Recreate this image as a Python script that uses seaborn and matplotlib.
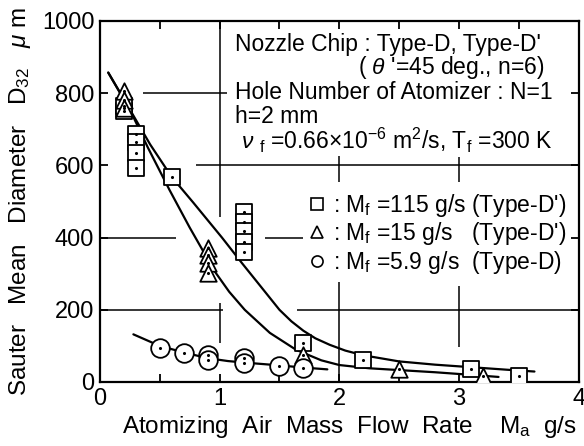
import matplotlib
matplotlib.use('Agg')
import matplotlib.pyplot as plt
import seaborn as sns
import pandas as pd

sq_x = [0.2, 0.2, 0.3, 0.3, 0.3, 0.3, 0.6, 1.2, 1.2, 1.2, 1.2, 1.2, 1.7, 2.2, 3.1, 3.5]
sq_y = [750, 765, 686, 664, 633, 592, 567, 472, 444, 417, 389, 361, 108, 61, 36, 17]
tri_x = [0.2, 0.2, 0.2, 0.9, 0.9, 0.9, 0.9, 1.7, 2.5, 3.2]
tri_y = [805, 780, 760, 370, 352, 330, 302, 75, 36, 17]
cir_x = [0.5, 0.7, 0.9, 0.9, 1.2, 1.2, 1.5, 1.7]
cir_y = [94, 80, 75, 61, 67, 53, 44, 39]

# fitted curves
fit_sq_x = [0.07, 0.25, 0.42, 0.6, 0.78, 1.02, 1.19, 1.35, 1.5, 1.6, 1.7, 1.8, 1.92, 2.05,
            2.2, 2.5, 2.8, 3.1, 3.4, 3.63]
fit_sq_y = [857, 755, 658, 568, 497, 400, 328, 262, 200, 168, 142, 121, 103, 87,
            74, 57, 48, 41, 34, 29]
fit_tri_x = [0.07, 0.25, 0.4, 0.58, 0.75, 0.96, 1.08, 1.21, 1.42, 1.64, 1.85, 2.0, 2.25,
             2.5, 2.8, 3.05, 3.33]
fit_tri_y = [857, 755, 650, 533, 428, 306, 250, 200, 136, 89, 60, 47, 38,
             33, 27, 21, 14]
fit_cir_x = [0.28, 0.5, 0.7, 0.9, 1.07, 1.2, 1.5, 1.7, 1.9]
fit_cir_y = [132, 100, 82, 66, 58, 54, 46, 40, 35]

labels = [": M$_\\mathregular{f}$ =115 g/s (Type-D')",
          ": M$_\\mathregular{f}$ =15 g/s   (Type-D')",
          ": M$_\\mathregular{f}$ =5.9 g/s  (Type-D)"]

pts = pd.DataFrame({
    'x': sq_x + tri_x + cir_x,
    'y': sq_y + tri_y + cir_y,
    'series': [labels[0]] * len(sq_x) + [labels[1]] * len(tri_x) + [labels[2]] * len(cir_x),
})
fits = [pd.DataFrame({'x': fit_sq_x, 'y': fit_sq_y}),
        pd.DataFrame({'x': fit_tri_x, 'y': fit_tri_y}),
        pd.DataFrame({'x': fit_cir_x, 'y': fit_cir_y})]

sns.set_theme(style='ticks')
plt.rcParams['font.family'] = ['Liberation Sans', 'DejaVu Sans']
plt.rcParams['mathtext.fontset'] = 'custom'
plt.rcParams['mathtext.rm'] = 'Liberation Sans'
plt.rcParams['mathtext.it'] = 'Liberation Sans:italic'
plt.rcParams['mathtext.default'] = 'regular'
plt.rcParams['text.color'] = 'black'

fig = plt.figure(figsize=(5.84, 4.46), dpi=100)
ax = fig.add_axes([0.171, 0.1435, 0.82, 0.8095])

# broken grid lines, as drawn in the original
lw_g = 1.1
for y, segs in [(800, [(0.36, 1.06)]), (600, [(0.8, 4)]),
                (400, [(0, 0.64), (1.38, 1.7)]), (200, [(0, 1.03), (1.65, 4)])]:
    for a, b in segs:
        ax.hlines(y, a, b, color='black', lw=lw_g, zorder=1)
for x, segs in [(1, [(458, 1000), (108, 219)]), (2, [(0, 278), (553, 625)]),
                (3, [(97, 265), (553, 622)])]:
    for a, b in segs:
        ax.vlines(x, a, b, color='black', lw=lw_g, zorder=1)

for f in fits:
    sns.lineplot(data=f, x='x', y='y', sort=False, estimator=None,
                 color='black', lw=1.6, ax=ax, zorder=2)

markers = {labels[0]: 's', labels[1]: '^', labels[2]: 'o'}
sizes = {labels[0]: 120, labels[1]: 140, labels[2]: 180}
for lab in labels:
    sub = pts[pts['series'] == lab]
    sns.scatterplot(data=sub, x='x', y='y', marker=markers[lab], s=sizes[lab],
                    facecolor='white', edgecolor='black', linewidth=1.3,
                    ax=ax, zorder=3, legend=False)
    ax.scatter(sub['x'], sub['y'], marker='.', s=6, color='black', zorder=4)

handles = [plt.Line2D([], [], ls='none', marker=m, ms=8, mfc='white', mec='black', mew=1.2)
           for m in ['s', '^', 'o']]
ax.legend(handles, labels, loc='center left', bbox_to_anchor=(0.405, 0.41),
          frameon=False, fontsize=16.5, handlelength=0.8, handletextpad=0.3,
          labelspacing=0.05, borderpad=0.1, labelcolor='black')

ax.set_xlim(0, 4)
ax.set_ylim(0, 1000)
ax.set_xticks([0, 1, 2, 3, 4])
ax.set_xticks([0.5, 1.5, 2.5, 3.5], minor=True)
ax.set_yticks([0, 200, 400, 600, 800, 1000])
ax.tick_params(direction='in', which='both', top=True, right=True, labelsize=17,
               width=1.3, color='black', labelcolor='black')
ax.tick_params(which='major', length=6, pad=4)
ax.tick_params(which='minor', length=6)
for s in ax.spines.values():
    s.set_linewidth(1.6)
    s.set_color('black')

ax.set_xlabel("Atomizing  Air  Mass  Flow  Rate    M$_a$  g/s", fontsize=17.5, color='black')
ax.set_ylabel("Sauter   Mean   Diameter   D$_{32}$   $\\mathit{\\mu}$ m", fontsize=17.5, color='black')
ax.xaxis.set_label_coords(0.522, -0.088)
ax.yaxis.set_label_coords(-0.14, 0.499)

tk = dict(transform=ax.transAxes, fontsize=16.5, color='black', va='center')
ax.text(0.282, 0.936, "Nozzle Chip : Type-D, Type-D'", **tk)
ax.text(0.929, 0.870, "( $\\mathit{\\theta}$ '=45 deg., n=6)", ha='right', **tk)
ax.text(0.282, 0.802, "Hole Number of Atomizer : N=1", **tk)
ax.text(0.282, 0.734, "h=2 mm", **tk)
ax.text(0.295, 0.668, "$\\mathit{\\nu}$ $_f$ =0.66$\\times$10$^{-6}$ m$^2$/s, T$_f$ =300 K", **tk)

fig.savefig('out.png', dpi=100)
